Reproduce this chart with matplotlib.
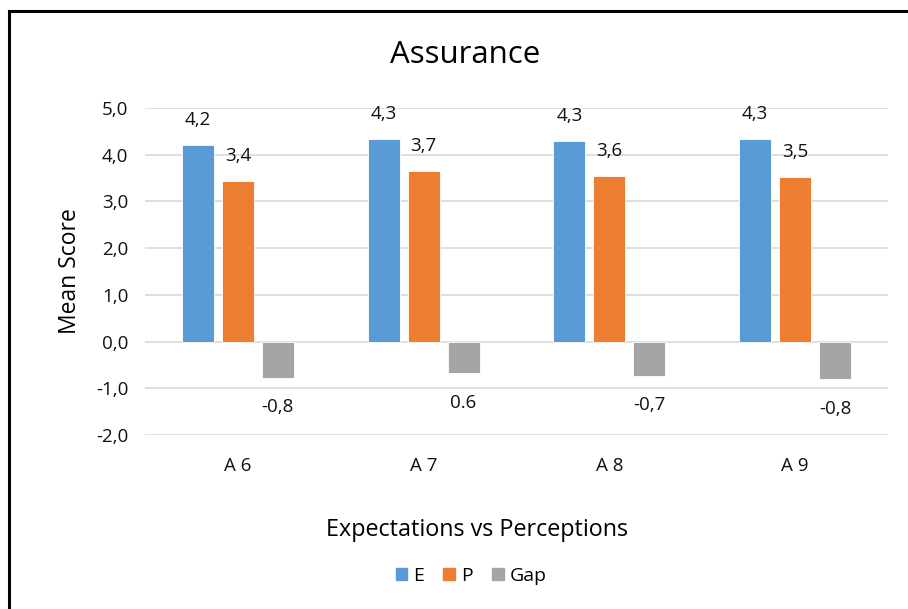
import matplotlib.pyplot as plt
import numpy as np
from matplotlib.patches import Patch, Rectangle

plt.rcParams['font.family'] = ['Open Sans', 'DejaVu Sans']

items = ['A 6', 'A 7', 'A 8', 'A 9']
expect = [4.21, 4.34, 4.29, 4.33]
percep = [3.43, 3.65, 3.55, 3.52]
gap = [-0.78, -0.68, -0.74, -0.81]

expect_lbl = ['4,2', '4,3', '4,3', '4,3']
percep_lbl = ['3,4', '3,7', '3,6', '3,5']
gap_lbl = ['-0,8', '0.6', '-0,7', '-0,8']

c_e = '#5B9BD5'
c_p = '#ED7D31'
c_g = '#A5A5A5'

fig = plt.figure(figsize=(9.08, 6.09), dpi=100)
ax = fig.add_axes([145 / 908, 1 - 435 / 609, 743 / 908, 327 / 609])

x = np.arange(len(items))
w = 0.172
step = 0.215

b1 = ax.bar(x - step, expect, w, color=c_e, edgecolor='white', linewidth=0.6)
b2 = ax.bar(x, percep, w, color=c_p, edgecolor='white', linewidth=0.6)
b3 = ax.bar(x + step, gap, w, color=c_g, edgecolor='white', linewidth=0.6)

for bars, labels in [(b1, expect_lbl), (b2, percep_lbl), (b3, gap_lbl)]:
    for b, t in zip(bars, labels):
        h = b.get_height()
        dy = 18 if h >= 0 else -21
        ax.annotate(t, (b.get_x() + b.get_width() / 2, h), xytext=(0, dy),
                    textcoords='offset points', ha='center', va='center',
                    fontsize=13.5, color='#111111')

ax.set_xlim(-0.5, 3.5)
ax.set_ylim(-2, 5)
ax.set_yticks(range(-2, 6))
ax.set_yticklabels([f'{v:.1f}'.replace('.', ',') for v in range(-2, 6)])
ax.set_xticks(x)
ax.set_xticklabels(items)
ax.tick_params(length=0, labelsize=13.5, colors='#111111')
ax.tick_params(axis='y', pad=12)
ax.tick_params(axis='x', pad=16)
ax.grid(axis='y', color='#D9D9D9', linewidth=1.2)
ax.set_axisbelow(True)
for s in ax.spines.values():
    s.set_visible(False)

ax.set_ylabel('Mean Score', fontsize=16.5, labelpad=10)
fig.text(477 / 908, 1 - 530 / 609, 'Expectations vs Perceptions',
         ha='center', va='center', fontsize=16.8)
fig.text(465 / 908, 1 - 55 / 609, 'Assurance', ha='center', va='center',
         fontsize=22.5)

handles = [Patch(color=c_e, label='E'), Patch(color=c_p, label='P'),
           Patch(color=c_g, label='Gap')]
fig.legend(handles=handles, loc='center', bbox_to_anchor=(471 / 908, 1 - 576 / 609),
           ncol=3, frameon=False, fontsize=14, handlelength=0.6,
           handleheight=0.6, handletextpad=0.3, columnspacing=1.0)

# outer frame, runs off the right and bottom edges
fig.patches.append(Rectangle((9 / 908, -0.2), 1.2, 1.2 - 11 / 609,
                             transform=fig.transFigure, fill=False,
                             edgecolor='black', linewidth=2.2))

fig.savefig('out.png', dpi=100)
